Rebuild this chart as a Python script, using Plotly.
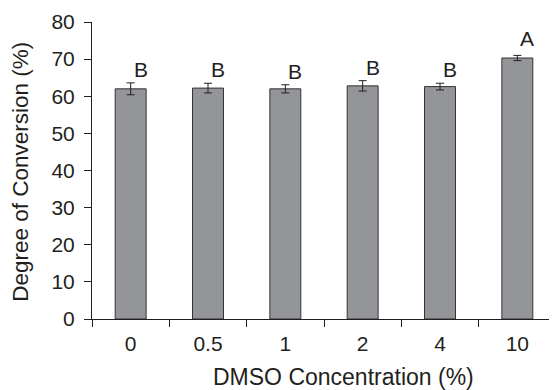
import plotly.graph_objects as go

categories = ["0", "0.5", "1", "2", "4", "10"]
values = [62.0, 62.2, 62.0, 62.8, 62.6, 70.3]
errors = [1.6, 1.3, 1.1, 1.4, 0.9, 0.7]
letters = ["B", "B", "B", "B", "B", "A"]
y_ticks = [0, 10, 20, 30, 40, 50, 60, 70, 80]

# page body has an 8px default margin; work in page pixels, then offset
OFF = 8
W, H = 557 - OFF, 390 - OFF
L, R, T, B = 92 - OFF, 1, 22 - OFF, 70.7
pw = W - L - R
ph = H - T - B

ink = "#231f20"
font = "Liberation Sans, Arial, Helvetica, sans-serif"

fig = go.Figure()
fig.add_trace(go.Bar(
    x=categories, y=values, width=0.4,
    marker=dict(color="#939598", line=dict(color="#333333", width=1)),
    error_y=dict(type="data", array=errors, visible=True, color=ink,
                 thickness=1, width=4),
))

for i, (v, e, t) in enumerate(zip(values, errors, letters)):
    fig.add_annotation(x=i, y=v + e, text=t, showarrow=False,
                       xanchor="center", yanchor="bottom", xshift=10,
                       yshift=(3 if t == "A" else 0),
                       font=dict(family=font, size=21, color=ink))

fig.add_annotation(xref="paper", yref="paper",
                   x=(343.4 - 92) / pw, y=(319.3 - 377) / ph,
                   text="DMSO Concentration (%)", showarrow=False,
                   xanchor="center", yanchor="middle",
                   font=dict(family=font, size=23, color=ink))
fig.add_annotation(xref="paper", yref="paper",
                   x=(21 - 92) / pw, y=(319.3 - 172) / ph,
                   text="Degree of Conversion (%)", showarrow=False, textangle=-90,
                   xanchor="center", yanchor="middle",
                   font=dict(family=font, size=22.5, color=ink))

fig.update_layout(
    width=W, height=H,
    margin=dict(l=L, r=R, t=T, b=B, pad=0),
    paper_bgcolor="white", plot_bgcolor="white",
    showlegend=False,
    font=dict(family=font, color=ink),
    xaxis=dict(type="category", range=[-0.5, len(categories) - 0.5],
               tickson="boundaries", ticks="outside", ticklen=7,
               tickcolor=ink, showline=True, linecolor=ink, linewidth=1,
               showgrid=False, zeroline=False,
               tickfont=dict(family=font, size=21, color=ink),
               ticklabelstandoff=6),
    yaxis=dict(range=[0, 80], tickvals=y_ticks, ticks="outside", ticklen=7,
               tickcolor=ink, showline=True, linecolor=ink, linewidth=1,
               showgrid=False, zeroline=False,
               tickfont=dict(family=font, size=21, color=ink),
               ticklabelstandoff=5),
)

fig.write_html("out.html")
